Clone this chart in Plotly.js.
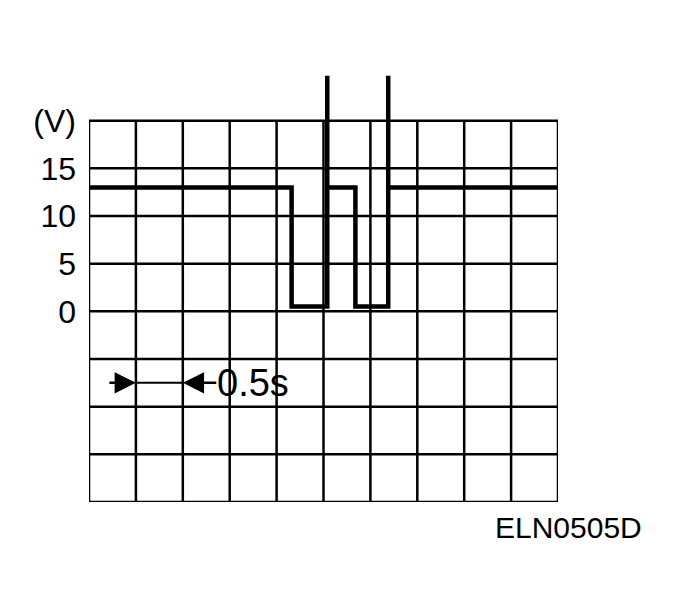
<!DOCTYPE html>
<html>
<head>
<meta charset="utf-8">
<script src="https://cdn.plot.ly/plotly-3.0.1.min.js"></script>
<style>html,body{margin:0;padding:0;background:#fff;}#chart{width:679px;height:614px;}</style>
</head>
<body>
<div id="chart"></div>
<script>
// Waveform (time in s, voltage in V)
var timeS = [0, 2.16, 2.16, 2.54, 2.54, 2.54, 2.84, 2.84, 3.19, 3.19, 3.19, 5];
var voltV = [13, 13, 0.5, 0.5, 24.7, 13, 13, 0.5, 0.5, 24.7, 13, 13];
// Grid divisions
var xGrid = [0, 0.5, 1, 1.5, 2, 2.5, 3, 3.5, 4, 4.5, 5];
var yGrid = [-20, -15, -10, -5, 0, 5, 10, 15, 20];
// Y tick labels
var yTickVals = [0, 5, 10, 15, 20];
var yTickText = ['0', '5', '10', '15', '(V)'];
// Time-per-division marker
var divStart = 0.5, divEnd = 1.0, divLevel = -7.5, divLabel = '0.5s';
var figLabel = 'ELN0505D';

var FONT = 'Liberation Sans, Arial, Helvetica, sans-serif';
var shapes = [];
xGrid.forEach(function (gx) {
  shapes.push({type: 'line', xref: 'x', yref: 'y', x0: gx, x1: gx, y0: yGrid[0], y1: yGrid[yGrid.length - 1],
    line: {color: '#000', width: 2.5}, layer: 'below'});
});
yGrid.forEach(function (gy) {
  shapes.push({type: 'line', xref: 'x', yref: 'y', x0: xGrid[0], x1: xGrid[xGrid.length - 1], y0: gy, y1: gy,
    line: {color: '#000', width: 2.5}, layer: 'below'});
});
shapes.push({type: 'line', xref: 'x', yref: 'y', x0: divStart, x1: divEnd, y0: divLevel, y1: divLevel,
  line: {color: '#000', width: 2}});

var trace = {
  x: timeS, y: voltV, type: 'scatter', mode: 'lines',
  line: {color: '#000', width: 4.5, shape: 'linear'},
  hoverinfo: 'skip', showlegend: false
};

var layout = {
  width: 679, height: 614,
  margin: {l: 89, r: 121, t: 73, b: 112, pad: 0},
  paper_bgcolor: '#fff', plot_bgcolor: '#fff',
  font: {family: FONT, color: '#000'},
  showlegend: false,
  xaxis: {range: [0, 5], showgrid: false, zeroline: false, showline: false, showticklabels: false, ticks: '', fixedrange: true},
  yaxis: {range: [-20, 25], showgrid: false, zeroline: false, showline: false,
    tickmode: 'array', tickvals: yTickVals, ticktext: yTickText, ticks: '',
    ticklabelstandoff: 12, tickfont: {family: FONT, size: 32, color: '#000'}, fixedrange: true},
  shapes: shapes,
  annotations: [
    {xref: 'x', yref: 'y', x: divStart, y: divLevel, text: '', showarrow: true,
      ax: -28, ay: 0, arrowhead: 2, arrowsize: 1.7, arrowwidth: 2.5, arrowcolor: '#000', standoff: 0},
    {xref: 'x', yref: 'y', x: divEnd, y: divLevel, text: divLabel, showarrow: true,
      ax: 70, ay: 0, arrowhead: 2, arrowsize: 1.7, arrowwidth: 2.5, arrowcolor: '#000', standoff: 0,
      font: {family: FONT, size: 38, color: '#000'}, borderpad: 0},
    {xref: 'paper', yref: 'paper', x: (568 - 89) / 469, y: (502 - 527) / 429, text: figLabel, showarrow: false,
      xanchor: 'center', yanchor: 'middle', font: {family: FONT, size: 30, color: '#000'}}
  ]
};

Plotly.newPlot('chart', [trace], layout, {displayModeBar: false, staticPlot: true});
</script>
</body>
</html>
